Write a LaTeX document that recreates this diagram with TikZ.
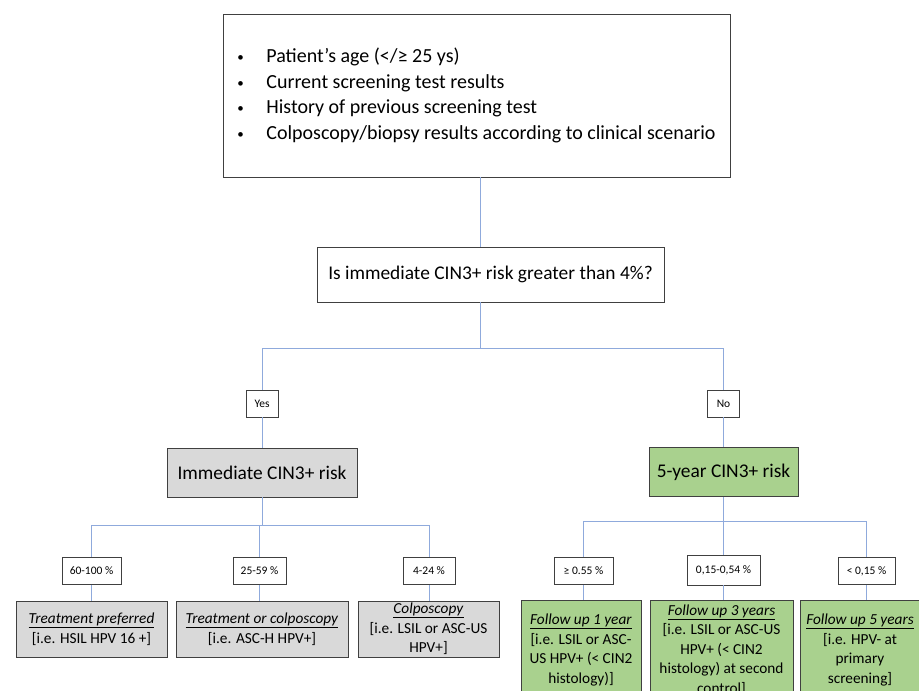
\documentclass[tikz,border=0pt]{standalone}
\usepackage{fontspec}
\setmainfont{Carlito}
\usepackage{tikz}
\usetikzlibrary{positioning}
\definecolor{linkblue}{HTML}{8FAADC}
\definecolor{boxgrey}{HTML}{D9D9D9}
\definecolor{boxgreen}{HTML}{A9D18E}
\definecolor{edgegrey}{HTML}{404040}
\newcommand{\pointmark}{\makebox[29pt][l]{\raisebox{1pt}{\fontsize{13}{13}\selectfont\textbullet}}}

\begin{document}
\begin{tikzpicture}[x=1pt,y=-1pt]
\tikzset{box/.style={draw=edgegrey,line width=0.9pt,align=center,inner sep=0pt}}
\tikzset{riskbox/.style={box,font=\fontsize{19.4}{22}\selectfont,minimum height=49pt}}
\tikzset{tag/.style={box,fill=white,font=\fontsize{11.5}{13}\selectfont,minimum height=27pt}}
\tikzset{leaf/.style={box,font=\fontsize{15.3}{19.5}\selectfont}}
\tikzset{link/.style={draw=linkblue,line width=1pt}}
\useasboundingbox (0,0) rectangle (919,691);
\clip (0,0) rectangle (919,691);
% inputs and question
\node[box,minimum width=507pt,minimum height=163pt,align=left,
      font=\fontsize{20}{25.5}\selectfont] (factors) at (476.5,95.5)
  {\pointmark Patient’s age (</≥ 25 ys)\\
   \pointmark Current screening test results\\
   \pointmark History of previous screening test\\
   \pointmark Colposcopy/biopsy results according to clinical scenario};
\node[box,minimum width=347pt,minimum height=55pt,font=\fontsize{19.4}{22}\selectfont]
  (question) at (490.5,274.5) {Is immediate CIN3+ risk greater than 4\%?};
\draw[link] ([xshift=3.5pt]factors.south) -- ([xshift=-10.5pt]question.north);
% yes / no
\node[tag,minimum width=32pt] (yes) at (262,403.5) {Yes};
\node[tag,minimum width=32pt] (no) at (723.5,403.5) {No};
\node[riskbox,fill=boxgrey,minimum width=190pt] (immediate) at (262,472.5) {Immediate CIN3+ risk};
\node[riskbox,fill=boxgreen,minimum width=149pt] (fiveyear) at (723.5,472) {5-year CIN3+ risk};
\draw[link] ([xshift=-10.5pt]question.south) -- ++(0,46) coordinate (split);
\draw[link] (yes.north) |- (split) -| (no.north);
\draw[link] (yes) -- (immediate);
\draw[link] (no) -- (fiveyear);
% immediate risk branch
\node[tag,minimum width=59pt] (r1) at (91.5,571) {60-100 \%};
\node[tag,minimum width=53pt] (r2) at (259.5,571) {25-59 \%};
\node[tag,minimum width=52pt] (r3) at (429,571) {4-24 \%};
\node[leaf,fill=boxgrey,minimum width=151pt,minimum height=56pt] (g1) at (91.5,629)
  {\underline{\textit{Treatment preferred}}\\{[i.e. HSIL HPV 16 +]}};
\node[leaf,fill=boxgrey,minimum width=172pt,minimum height=56pt] (g2) at (262,629)
  {\underline{\textit{Treatment or colposcopy}}\\{[i.e. ASC-H HPV+]}};
\node[leaf,fill=boxgrey,minimum width=141pt,minimum height=56pt] (g3) at (428.5,629)
  {\underline{\textit{Colposcopy}}\\{[i.e. LSIL or ASC-US}\\HPV+]};
\draw[link] (immediate.south) -- ++(0,28) coordinate (splitL);
\draw[link] (r1.north) |- (splitL) -| (r3.north);
\draw[link] (r2.north) -- (r2.north |- splitL);
\draw[link] (r1) -- (r1 |- g1.north);
\draw[link] (r2) -- (r2 |- g2.north);
\draw[link] (r3) -- (r3 |- g3.north);
% five-year risk branch
\node[tag,minimum width=59pt] (s1) at (583.5,571) {≥ 0.55 \%};
\node[tag,minimum width=73pt,minimum height=30pt] (s2) at (723.5,570) {0,15-0,54 \%};
\node[tag,minimum width=57pt] (s3) at (866.5,571) {< 0,15 \%};
\node[leaf,fill=boxgreen,minimum width=120pt,minimum height=100pt] (l1) at (581,650)
  {\underline{\textit{Follow up 1 year}}\\{[i.e. LSIL or ASC-}\\US HPV+ (< CIN2\\histology)]};
\node[leaf,fill=boxgreen,minimum width=143pt,minimum height=100pt] (l2) at (721.5,650)
  {\underline{\textit{Follow up 3 years}}\\{[i.e. LSIL or ASC-US}\\HPV+ (< CIN2\\histology) at second\\control]};
\node[leaf,fill=boxgreen,minimum width=120pt,minimum height=100pt] (l3) at (860,650)
  {\underline{\textit{Follow up 5 years}}\\{[i.e. HPV- at}\\primary\\screening]};
\draw[link] (fiveyear.south) -- ++(0,25) coordinate (splitR);
\draw[link] (s1.north) |- (splitR) -| (s3.north);
\draw[link] (s2.north) -- (s2.north |- splitR);
\draw[link] (s1) -- (s1 |- l1.north);
\draw[link] (s2) -- (s2 |- l2.north);
\draw[link] (s3) -- (s3 |- l3.north);
\end{tikzpicture}
\end{document}
